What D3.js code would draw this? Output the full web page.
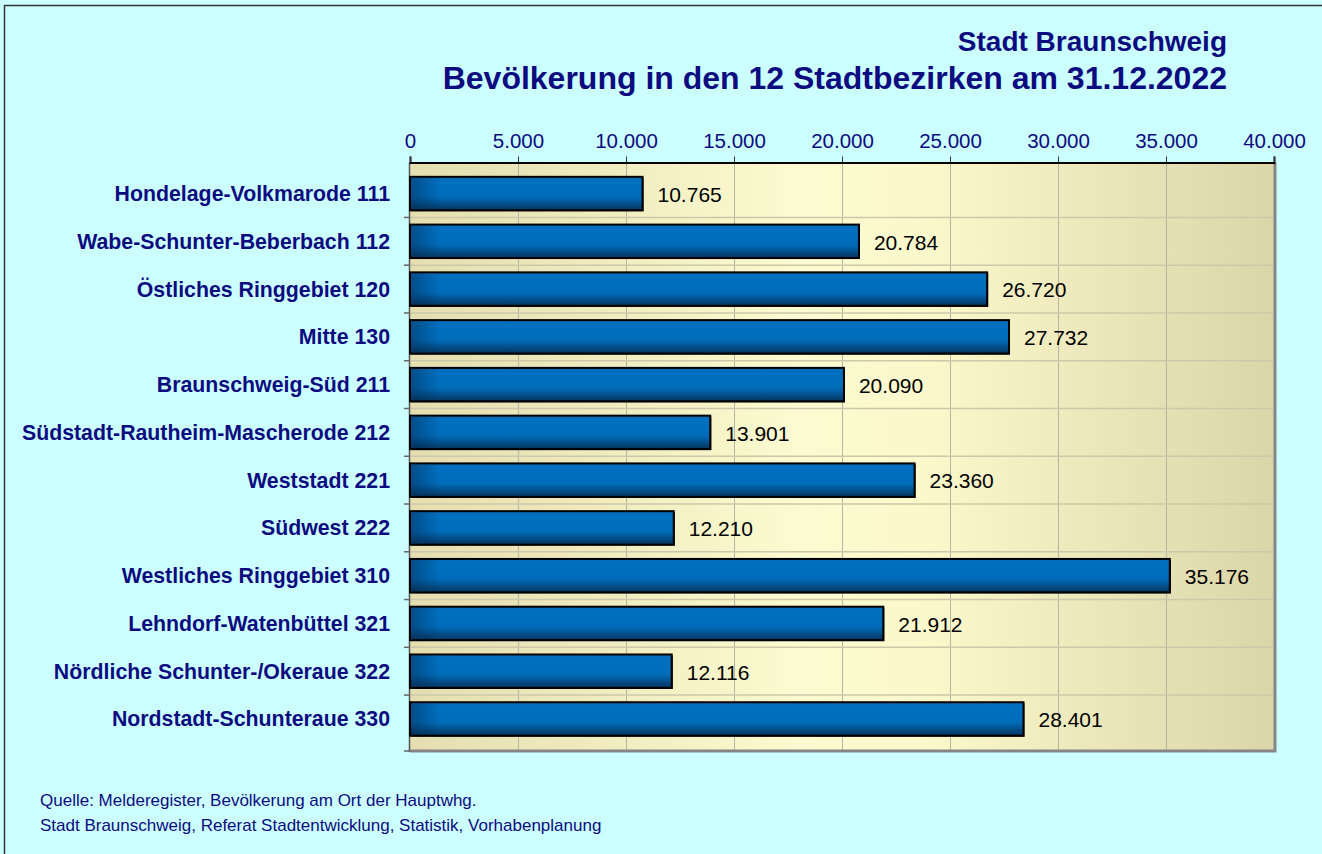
<!DOCTYPE html>
<html lang="de">
<head>
<meta charset="utf-8">
<style>
body { margin: 0; background: #ccffff; }
svg { display: block; }
text { font-family: "Liberation Sans", Arial, sans-serif; }
.navy { fill: #0c0c80; }
</style>
</head>
<body>
<svg width="1322" height="854"></svg>

<script src="https://d3js.org/d3.v7.min.js"></script>
<script>

var bezirke = [
  "Hondelage-Volkmarode 111",
  "Wabe-Schunter-Beberbach 112",
  "Östliches Ringgebiet 120",
  "Mitte 130",
  "Braunschweig-Süd 211",
  "Südstadt-Rautheim-Mascherode 212",
  "Weststadt 221",
  "Südwest 222",
  "Westliches Ringgebiet 310",
  "Lehndorf-Watenbüttel 321",
  "Nördliche Schunter-/Okeraue 322",
  "Nordstadt-Schunteraue 330"
];

var einwohner = [10765, 20784, 26720, 27732, 20090, 13901, 23360, 12210, 35176, 21912, 12116, 28401];

var xTicks = [0, 5000, 10000, 15000, 20000, 25000, 30000, 35000, 40000];

var titel = ["Stadt Braunschweig", "Bevölkerung in den 12 Stadtbezirken am 31.12.2022"];
var quelle = ["Quelle: Melderegister, Bevölkerung am Ort der Hauptwhg.",
              "Stadt Braunschweig, Referat Stadtentwicklung, Statistik, Vorhabenplanung"];

var data = bezirke.map(function(d, i) { return { name: d, value: einwohner[i] }; });

var svg = d3.select("svg");

var fmt = d3.formatLocale({ decimal: ",", thousands: ".", grouping: [3], currency: ["", "€"] }).format(",d");

var x = d3.scaleLinear().domain([0, 40000]).range([410, 1274]);
var y = d3.scaleBand().domain(bezirke).range([162.5, 750]).padding(0.3);

// outer frame (only top/left visible)
svg.append("path")
    .attr("d", "M4.5,854 V5.5 H1322")
    .attr("fill", "none")
    .attr("stroke", "#333")
    .attr("stroke-width", 1.5);

var defs = svg.append("defs");

var bg = defs.append("linearGradient").attr("id", "plotbg");
bg.append("stop").attr("offset", "0").attr("stop-color", "#e4deb0");
bg.append("stop").attr("offset", "0.45").attr("stop-color", "#fcfad0");
bg.append("stop").attr("offset", "0.6").attr("stop-color", "#fbf8cc");
bg.append("stop").attr("offset", "1").attr("stop-color", "#dbd6aa");

var barV = defs.append("linearGradient").attr("id", "barv")
    .attr("x1", 0).attr("y1", 0).attr("x2", 0).attr("y2", 1);
barV.append("stop").attr("offset", "0").attr("stop-color", "#0a6cb8");
barV.append("stop").attr("offset", "0.15").attr("stop-color", "#0070c0");
barV.append("stop").attr("offset", "0.6").attr("stop-color", "#006cba");
barV.append("stop").attr("offset", "1").attr("stop-color", "#06345e");

var barH = defs.append("linearGradient").attr("id", "barh")
    .attr("gradientUnits", "userSpaceOnUse")
    .attr("x1", 410).attr("x2", 440).attr("y1", 0).attr("y2", 0);
barH.append("stop").attr("offset", "0").attr("stop-color", "#002a50").attr("stop-opacity", 0.5);
barH.append("stop").attr("offset", "1").attr("stop-color", "#002a50").attr("stop-opacity", 0);

// plot area
var r = x.range(), yr = y.range();
svg.append("rect")
    .attr("x", r[0]).attr("y", yr[0])
    .attr("width", r[1] - r[0]).attr("height", yr[1] - yr[0])
    .attr("fill", "url(#plotbg)");

// grid
svg.append("g").selectAll("line")
    .data(xTicks.slice(1, -1))
    .join("line")
    .attr("x1", function(d) { return x(d) + 0.5; })
    .attr("x2", function(d) { return x(d) + 0.5; })
    .attr("y1", yr[0]).attr("y2", yr[1])
    .attr("stroke", "#b8b4a0").attr("stroke-width", 1);

var bounds = bezirke.slice(1).map(function(d) { return y(d) - y.step() * y.paddingInner() / 2; });
svg.append("g").selectAll("line")
    .data(bounds)
    .join("line")
    .attr("x1", r[0]).attr("x2", r[1])
    .attr("y1", function(d) { return d; }).attr("y2", function(d) { return d; })
    .attr("stroke", "#cdc8aa").attr("stroke-width", 1.5);

// plot borders: shadowed right/bottom
svg.append("path")
    .attr("d", "M" + r[0] + "," + (yr[1] + 1) + " H" + (r[1] + 1) + " V" + yr[0])
    .attr("fill", "none").attr("stroke", "#858585").attr("stroke-width", 3);
svg.append("line")
    .attr("x1", r[0] - 0.5).attr("x2", r[0] - 0.5)
    .attr("y1", yr[0]).attr("y2", yr[1] + 2)
    .attr("stroke", "#555").attr("stroke-width", 1.5);

// left ticks
svg.append("g").selectAll("line")
    .data(bounds.concat([yr[1] + 1]))
    .join("line")
    .attr("x1", r[0] - 6).attr("x2", r[0])
    .attr("y1", function(d) { return d; }).attr("y2", function(d) { return d; })
    .attr("stroke", "#666").attr("stroke-width", 1.5);

// top axis
var axis = svg.append("g")
    .attr("transform", "translate(0," + yr[0] + ")")
    .call(d3.axisTop(x).tickValues(xTicks).tickFormat(fmt).tickSize(6).tickPadding(9));
axis.select(".domain").attr("stroke", "#000").attr("stroke-width", 2);
axis.selectAll(".tick line").attr("stroke", "#333").attr("stroke-width", 1);
axis.selectAll("text")
    .attr("fill", "#0c0c80")
    .style("font-size", "20.5px")
    .style("font-family", "'Liberation Sans', Arial, sans-serif");

// bars
var bars = svg.append("g").selectAll("g")
    .data(data)
    .join("g");

bars.append("rect")
    .attr("x", x(0) + 1)
    .attr("y", function(d) { return y(d.name) + 1; })
    .attr("width", function(d) { return x(d.value) - x(0); })
    .attr("height", y.bandwidth())
    .attr("fill", "#000");

bars.append("rect")
    .attr("x", x(0))
    .attr("y", function(d) { return y(d.name); })
    .attr("width", function(d) { return x(d.value) - x(0); })
    .attr("height", y.bandwidth())
    .attr("fill", "url(#barv)")
    .attr("stroke", "#000").attr("stroke-width", 2);

bars.append("rect")
    .attr("x", x(0) + 1)
    .attr("y", function(d) { return y(d.name) + 1; })
    .attr("width", 30)
    .attr("height", y.bandwidth() - 2)
    .attr("fill", "url(#barh)");

bars.append("text")
    .attr("x", function(d) { return x(d.value) + 15; })
    .attr("y", function(d) { return y(d.name) + y.bandwidth() / 2 + 1; })
    .attr("dy", "0.35em")
    .attr("fill", "#000")
    .style("font-size", "21px")
    .text(function(d) { return fmt(d.value); });

// category labels
svg.append("g").selectAll("text")
    .data(data)
    .join("text")
    .attr("class", "navy")
    .attr("x", 390)
    .attr("y", function(d) { return y(d.name) + y.bandwidth() / 2; })
    .attr("dy", "0.35em")
    .attr("text-anchor", "end")
    .style("font-size", "21.3px")
    .style("font-weight", "bold")
    .text(function(d) { return d.name; });

// titles
svg.append("text").attr("class", "navy")
    .attr("x", 1227).attr("y", 51)
    .attr("text-anchor", "end")
    .style("font-size", "28px").style("font-weight", "bold")
    .text(titel[0]);
svg.append("text").attr("class", "navy")
    .attr("x", 1227).attr("y", 89)
    .attr("text-anchor", "end")
    .style("font-size", "32px").style("font-weight", "bold")
    .text(titel[1]);

// source
svg.append("g").selectAll("text")
    .data(quelle)
    .join("text")
    .attr("class", "navy")
    .attr("x", 40)
    .attr("y", function(d, i) { return 806 + i * 25; })
    .style("font-size", "17px")
    .text(function(d) { return d; });

</script>
</body>
</html>
